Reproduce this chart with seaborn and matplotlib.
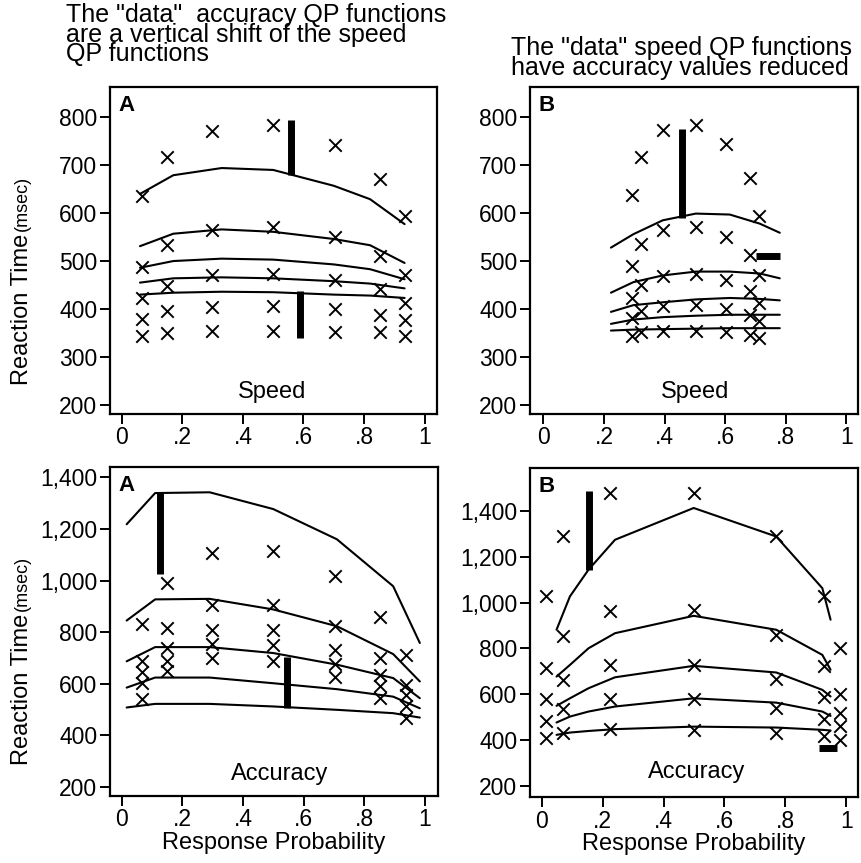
import numpy as np
import pandas as pd
import matplotlib
matplotlib.use("Agg")
import matplotlib.pyplot as plt
import seaborn as sns
from matplotlib.ticker import FuncFormatter

# ---------------- data ----------------
quantiles = [".1", ".3", ".5", ".7", ".9"]

# Panel A, speed (top left)
a_spd_p = [0.066, 0.148, 0.299, 0.498, 0.705, 0.854, 0.934]
a_spd_q1 = [343, 350, 355, 355, 353, 353, 343]
a_spd_q3 = [380, 395, 404, 407, 400, 388, 378]
a_spd_q5 = [423, 448, 470, 473, 460, 441, 413]
a_spd_q7 = [488, 533, 565, 572, 550, 510, 470]
a_spd_q9 = [636, 716, 772, 783, 743, 672, 594]
a_spd_fit_p = [0.06, 0.17, 0.33, 0.50, 0.70, 0.82, 0.934]
a_spd_fit1 = [430, 434, 436, 435, 430, 428, 423]
a_spd_fit3 = [455, 464, 466, 464, 458, 453, 443]
a_spd_fit5 = [486, 500, 505, 503, 493, 483, 462]
a_spd_fit7 = [531, 557, 566, 561, 546, 533, 496]
a_spd_fit9 = [640, 679, 694, 690, 657, 629, 577]
a_spd_vbar_x = [0.56, 0.588]
a_spd_vbar_lo = [680, 339]
a_spd_vbar_hi = [795, 438]

# Panel B, speed (top right)
b_spd_p = [0.292, 0.321, 0.394, 0.503, 0.604, 0.681, 0.712]
b_spd_q1 = [343, 352, 355, 355, 352, 346, 339]
b_spd_q3 = [381, 395, 406, 408, 400, 388, 374]
b_spd_q5 = [423, 450, 468, 473, 460, 437, 413]
b_spd_q7 = [489, 535, 565, 572, 550, 512, 470]
b_spd_q9 = [637, 718, 773, 783, 744, 673, 594]
b_spd_fit_p = [0.223, 0.297, 0.394, 0.503, 0.615, 0.714, 0.78]
b_spd_fit1 = [355, 357, 358, 359, 360, 360, 360]
b_spd_fit3 = [369, 378, 383, 386, 388, 388, 388]
b_spd_fit5 = [394, 408, 414, 420, 423, 421, 418]
b_spd_fit7 = [434, 456, 470, 478, 478, 474, 464]
b_spd_fit9 = [528, 556, 585, 599, 597, 578, 559]
b_spd_vbar_x = [0.458]
b_spd_vbar_lo = [589]
b_spd_vbar_hi = [776]
b_spd_hbar_y = [510]
b_spd_hbar_lo = [0.703]
b_spd_hbar_hi = [0.782]

# Panel A, accuracy (bottom left)
a_acc_p = [0.066, 0.148, 0.299, 0.498, 0.705, 0.854, 0.937]
a_acc_q1 = [541, 650, 700, 689, 628, 544, 466]
a_acc_q3 = [603, 687, 754, 752, 676, 593, 512]
a_acc_q5 = [645, 738, 810, 810, 732, 635, 557]
a_acc_q7 = [687, 816, 907, 907, 823, 700, 596]
a_acc_q9 = [832, 991, 1108, 1115, 1017, 858, 710]
a_acc_fit_p = [0.016, 0.11, 0.29, 0.50, 0.71, 0.896, 0.984]
a_acc_fit1 = [508, 522, 522, 512, 499, 486, 469]
a_acc_fit3 = [585, 624, 624, 602, 579, 550, 505]
a_acc_fit5 = [687, 742, 742, 719, 674, 622, 544]
a_acc_fit7 = [845, 927, 929, 888, 823, 715, 609]
a_acc_fit9 = [1218, 1339, 1342, 1277, 1160, 978, 758]
a_acc_vbar_x = [0.126, 0.546]
a_acc_vbar_lo = [1024, 505]
a_acc_vbar_hi = [1339, 704]

# Panel B, accuracy (bottom right)
b_acc_p = [0.016, 0.071, 0.225, 0.499, 0.770, 0.927, 0.978]
b_acc_q1 = [407, 429, 447, 444, 429, 417, 400]
b_acc_q3 = [483, 534, 578, 578, 539, 490, 460]
b_acc_q5 = [578, 663, 728, 728, 666, 587, 517]
b_acc_q7 = [714, 855, 962, 969, 857, 724, 600]
b_acc_q9 = [1028, 1293, 1480, 1480, 1293, 1031, 804]
b_acc_fit_p = [0.049, 0.093, 0.154, 0.241, 0.499, 0.770, 0.921, 0.948]
b_acc_fit1 = [422, 432, 439, 447, 458, 454, 444, 441]
b_acc_fit3 = [476, 502, 524, 546, 582, 563, 524, 505]
b_acc_fit5 = [549, 582, 626, 674, 724, 695, 619, 590]
b_acc_fit7 = [677, 728, 801, 867, 943, 882, 772, 707]
b_acc_fit9 = [882, 1028, 1145, 1276, 1415, 1290, 1064, 926]
b_acc_vbar_x = [0.154]
b_acc_vbar_lo = [1145]
b_acc_vbar_hi = [1488]
b_acc_hbar_y = [363]
b_acc_hbar_lo = [0.91]
b_acc_hbar_hi = [0.97]

x_ticks = [0, 0.2, 0.4, 0.6, 0.8, 1.0]
x_tick_labels = ["0", ".2", ".4", ".6", ".8", "1"]
speed_yticks = [200, 300, 400, 500, 600, 700, 800]
acc_yticks = [200, 400, 600, 800, 1000, 1200, 1400]

title_left = 'The "data"  accuracy QP functions\nare a vertical shift of the speed\nQP functions'
title_right = 'The "data" speed QP functions\nhave accuracy values reduced'

# ---------------- style ----------------
sns.set_theme(style="ticks")
plt.rcParams['font.family'] = ['Liberation Sans', 'DejaVu Sans']
plt.rcParams['axes.edgecolor'] = 'black'
plt.rcParams['axes.linewidth'] = 1.6
plt.rcParams['text.color'] = 'black'
plt.rcParams['axes.labelcolor'] = 'black'
plt.rcParams['xtick.color'] = 'black'
plt.rcParams['ytick.color'] = 'black'

W, H = 862, 863
fig = plt.figure(figsize=(W / 100, H / 100), dpi=100)
fig.patch.set_facecolor('white')


def px_axes(x0, y0, x1, y1):
    return fig.add_axes([x0 / W, 1 - y1 / H, (x1 - x0) / W, (y1 - y0) / H])


def long_points(p, qs):
    rows = []
    for q, vals in zip(quantiles, qs):
        for pi, v in zip(p, vals):
            rows.append({"p": pi, "rt": v, "q": q})
    return pd.DataFrame(rows)


def draw_panel(ax, p, qs, fp, fits, xlim, ylim, yticks, cond, cond_xy, letter,
               vbars=None, hbars=None, comma=False):
    pts = long_points(p, qs)
    fit = long_points(fp, fits)
    sns.lineplot(data=fit, x="p", y="rt", units="q", estimator=None, sort=False,
                 color="black", linewidth=1.5, ax=ax, legend=False)
    sns.scatterplot(data=pts, x="p", y="rt", marker="x", color="black", s=80,
                    linewidth=1.4, ax=ax, legend=False, zorder=3)
    if vbars is not None:
        ax.vlines(vbars[0], vbars[1], vbars[2], color="black", linewidth=5)
    if hbars is not None:
        ax.hlines(hbars[0], hbars[1], hbars[2], color="black", linewidth=5)
    ax.set_xlim(*xlim)
    ax.set_ylim(*ylim)
    ax.set_xticks(x_ticks)
    ax.set_xticklabels(x_tick_labels)
    ax.set_yticks(yticks)
    if comma:
        ax.yaxis.set_major_formatter(FuncFormatter(lambda v, _: f"{int(v):,}"))
    ax.tick_params(direction="out", length=7, width=1.4, labelsize=16.5,
                   colors="black", pad=2)
    ax.set_xlabel("")
    ax.set_ylabel("")
    for s in ax.spines.values():
        s.set_visible(True)
        s.set_linewidth(1.6)
    ax.text(cond_xy[0], cond_xy[1], cond, ha="center", va="center", fontsize=17,
            color="black")
    ax.text(0.025, 0.975, letter, transform=ax.transAxes, ha="left", va="top",
            fontsize=16, fontweight="bold", color="black")


ax_tl = px_axes(110, 87, 437, 414)
ax_tr = px_axes(530, 87, 858, 414)
ax_bl = px_axes(110, 467, 438, 796)
ax_br = px_axes(530, 468, 858, 797)

draw_panel(ax_tl, a_spd_p, [a_spd_q1, a_spd_q3, a_spd_q5, a_spd_q7, a_spd_q9],
           a_spd_fit_p, [a_spd_fit1, a_spd_fit3, a_spd_fit5, a_spd_fit7, a_spd_fit9],
           (-0.039, 1.041), (181, 863), speed_yticks, "Speed", (0.495, 226), "A",
           vbars=(a_spd_vbar_x, a_spd_vbar_lo, a_spd_vbar_hi))
draw_panel(ax_tr, b_spd_p, [b_spd_q1, b_spd_q3, b_spd_q5, b_spd_q7, b_spd_q9],
           b_spd_fit_p, [b_spd_fit1, b_spd_fit3, b_spd_fit5, b_spd_fit7, b_spd_fit9],
           (-0.044, 1.038), (181, 863), speed_yticks, "Speed", (0.50, 226), "B",
           vbars=(b_spd_vbar_x, b_spd_vbar_lo, b_spd_vbar_hi),
           hbars=(b_spd_hbar_y, b_spd_hbar_lo, b_spd_hbar_hi))
draw_panel(ax_bl, a_acc_p, [a_acc_q1, a_acc_q3, a_acc_q5, a_acc_q7, a_acc_q9],
           a_acc_fit_p, [a_acc_fit1, a_acc_fit3, a_acc_fit5, a_acc_fit7, a_acc_fit9],
           (-0.039, 1.044), (165, 1440), acc_yticks, "Accuracy", (0.52, 252), "A",
           vbars=(a_acc_vbar_x, a_acc_vbar_lo, a_acc_vbar_hi), comma=True)
draw_panel(ax_br, b_acc_p, [b_acc_q1, b_acc_q3, b_acc_q5, b_acc_q7, b_acc_q9],
           b_acc_fit_p, [b_acc_fit1, b_acc_fit3, b_acc_fit5, b_acc_fit7, b_acc_fit9],
           (-0.038, 1.038), (150, 1590), acc_yticks, "Accuracy", (0.51, 261), "B",
           vbars=(b_acc_vbar_x, b_acc_vbar_lo, b_acc_vbar_hi),
           hbars=(b_acc_hbar_y, b_acc_hbar_lo, b_acc_hbar_hi), comma=True)

for ax in (ax_bl, ax_br):
    ax.set_xlabel("Response Probability", fontsize=17, labelpad=0, color="black")

# y labels: "Reaction Time" + smaller "(msec)"
fig.canvas.draw()
renderer = fig.canvas.get_renderer()
for y_bottom_px in (385, 765):
    t = fig.text(22 / W, 1 - y_bottom_px / H, "Reaction Time", rotation=90,
                 ha="center", va="bottom", fontsize=17, color="black")
    bb = t.get_window_extent(renderer)
    fig.text(22 / W, (bb.y1 + 3) / H, "(msec)", rotation=90, ha="center",
             va="bottom", fontsize=13, color="black")

narrow = ['Liberation Sans Narrow', 'Liberation Sans', 'DejaVu Sans']
fig.text(66 / W, 1 - 3 / H, title_left, ha="left", va="top", fontsize=18,
         family=narrow, linespacing=0.77, color="black")
fig.text(511 / W, 1 - 36 / H, title_right, ha="left", va="top", fontsize=18,
         family=narrow, linespacing=0.78, color="black")

fig.savefig("out.png", dpi=100, facecolor="white")
